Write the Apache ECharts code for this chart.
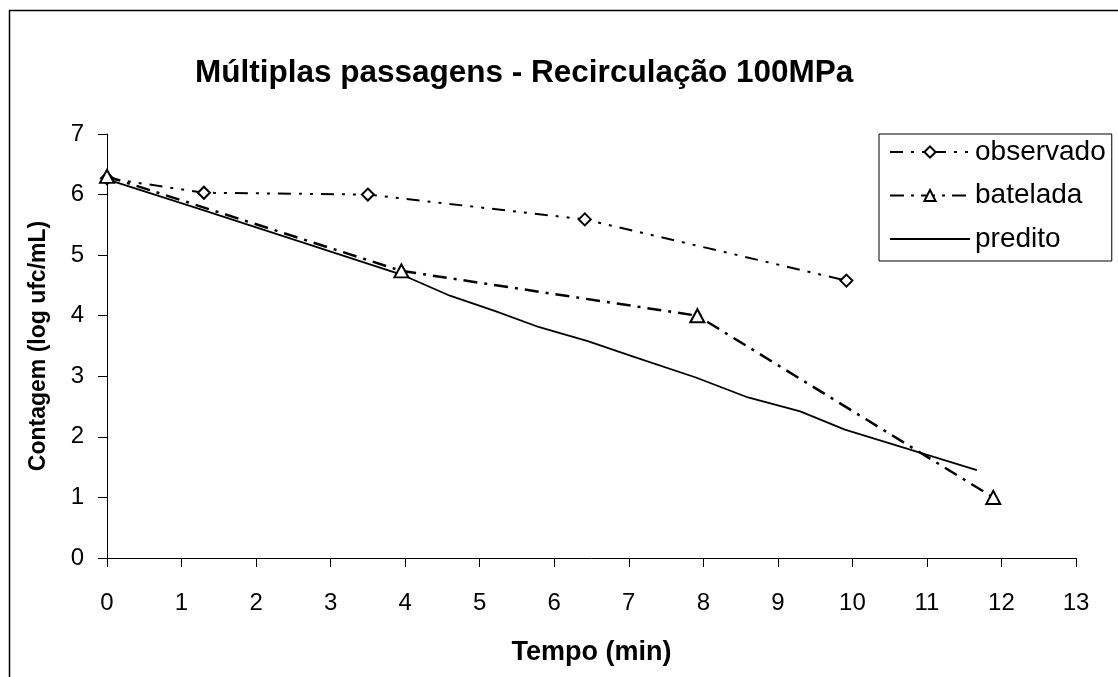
<!DOCTYPE html>
<html>
<head>
<meta charset="utf-8">
<script src="https://cdn.jsdelivr.net/npm/echarts@6/dist/echarts.min.js"></script>
<style>
html,body{margin:0;padding:0;background:#fff;}
#chart{width:1118px;height:677px;}
</style>
</head>
<body>
<div id="chart"></div>
<script>
const titleText = "Múltiplas passagens - Recirculação 100MPa";
const xName = "Tempo (min)";
const yName = "Contagem (log ufc/mL)";
const seriesNames = ["observado", "batelada", "predito"];

const observadoX = [0, 1.30, 3.50, 6.41, 9.92];
const observadoY = [6.27, 6.03, 6.00, 5.59, 4.58];

const bateladaX = [0, 3.95, 7.92, 11.89];
const bateladaY = [6.30, 4.74, 4.00, 1.00];

const preditoX = [0, 1.3, 2.6, 3.95, 4.6, 5.2, 5.8, 6.45, 7.05, 7.9, 8.6, 9.3, 9.9, 11.67];
const preditoY = [6.25, 5.74, 5.22, 4.68, 4.33, 4.08, 3.81, 3.58, 3.33, 2.98, 2.65, 2.42, 2.12, 1.45];

const xTicks = {min: 0, max: 13, interval: 1};
const yTicks = {min: 0, max: 7, interval: 1};

const zip = (xs, ys) => xs.map((x, i) => [x, ys[i]]);
const FONT = "Liberation Sans, Arial, sans-serif";

const chart = echarts.init(document.getElementById('chart'), null, {renderer: 'canvas'});
chart.setOption({
  backgroundColor: '#fff',
  animation: false,
  title: {
    text: titleText,
    left: 190, top: 52,
    textStyle: {fontFamily: FONT, fontSize: 31.5, fontWeight: 'bold', color: '#000'}
  },
  graphic: [{
    type: 'rect', left: 7, top: 8, z: -1,
    shape: {width: 1300, height: 900},
    style: {fill: 'none', stroke: '#000', lineWidth: 1.5}
  }],
  legend: {
    orient: 'vertical',
    left: 879, top: 134,
    padding: [4, 6, 8, 10],
    itemGap: 15.5,
    itemWidth: 80, itemHeight: 14,
    borderColor: '#000', borderWidth: 1,
    backgroundColor: '#fff',
    textStyle: {fontFamily: FONT, fontSize: 28, color: '#000'},
    data: [seriesNames[0], seriesNames[1], {name: seriesNames[2], itemStyle: {opacity: 0}}]
  },
  grid: {left: 107, right: 42, top: 134, bottom: 119, containLabel: false},
  xAxis: {
    type: 'value', min: xTicks.min, max: xTicks.max, interval: xTicks.interval,
    name: xName, nameLocation: 'middle', nameGap: 81,
    nameTextStyle: {fontFamily: FONT, fontSize: 27, fontWeight: 'bold', color: '#000'},
    axisLine: {show: true, onZero: false, lineStyle: {color: '#000', width: 1}},
    axisTick: {show: true, inside: false, length: 9, lineStyle: {color: '#000'}},
    axisLabel: {fontFamily: FONT, fontSize: 24, color: '#000', margin: 33},
    splitLine: {show: false}
  },
  yAxis: {
    type: 'value', min: yTicks.min, max: yTicks.max, interval: yTicks.interval,
    name: yName, nameLocation: 'middle', nameGap: 57, nameRotate: 90,
    nameTextStyle: {fontFamily: FONT, fontSize: 23, fontWeight: 'bold', color: '#000'},
    axisLine: {show: true, onZero: false, lineStyle: {color: '#000', width: 1}},
    axisTick: {show: true, inside: false, length: 9, lineStyle: {color: '#000'}},
    axisLabel: {fontFamily: FONT, fontSize: 24, color: '#000', margin: 23},
    splitLine: {show: false}
  },
  series: [
    {
      name: seriesNames[0], type: 'line', data: zip(observadoX, observadoY),
      symbol: 'diamond', symbolSize: 12, showAllSymbol: true,
      lineStyle: {color: '#000', width: 2, type: [13, 8, 3, 8, 3, 8]},
      itemStyle: {color: '#fff', borderColor: '#000', borderWidth: 2},
      z: 3
    },
    {
      name: seriesNames[1], type: 'line', data: zip(bateladaX, bateladaY),
      symbol: 'triangle', symbolSize: [14, 13], showAllSymbol: true,
      lineStyle: {color: '#000', width: 2.5, type: [14, 7, 3, 7]},
      itemStyle: {color: '#fff', borderColor: '#000', borderWidth: 2},
      z: 3
    },
    {
      name: seriesNames[2], type: 'line', data: zip(preditoX, preditoY),
      symbol: 'none', showSymbol: false,
      lineStyle: {color: '#000', width: 1.8, type: 'solid'},
      itemStyle: {color: '#000'},
      z: 2
    }
  ]
});
</script>
</body>
</html>
